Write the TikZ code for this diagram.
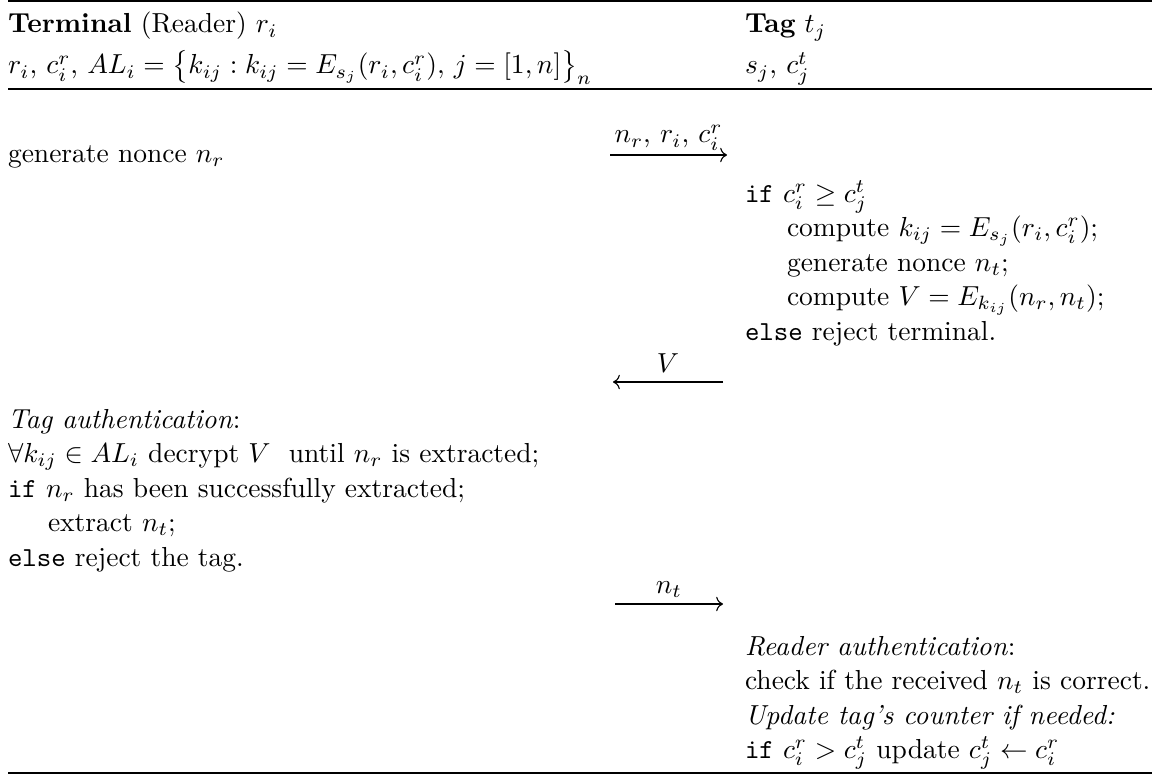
\documentclass[tikz,border=0pt]{standalone}
\usepackage{amsmath,amssymb}
\usepackage{tikz}
\usetikzlibrary{arrows.meta}
\tikzset{
  line/.style={anchor=base west,inner sep=0pt,outer sep=0pt},
  lbl/.style={anchor=base,inner sep=0pt},
  msg/.style={line width=0.4pt,-{Computer Modern Rightarrow}},
  toprl/.style={line width=0.8pt},
  midrl/.style={line width=0.5pt}
}
\newcommand{\kw}[1]{\texttt{#1}}

\begin{document}
\begin{tikzpicture}[x=0.3636pt,y=-0.3636pt]
  \useasboundingbox (0,0) rectangle (1156,776);

  % rules of the table
  \draw[toprl] (8,1.1) -- (1152,1.1);
  \draw[midrl] (8,89) -- (1152,89);
  \draw[toprl] (8,773) -- (1152,773);

  % header
  \node[line] (termhead) at (8,33) {\textbf{Terminal} (Reader) $r_i$};
  \node[line] (termdata) at (8,74)
    {$r_i$, $c_i^r$, $AL_i=\big\{k_{ij}:k_{ij}=E_{s_j}(r_i,c_i^r){,}\ j=[1,n]\big\}_n$};
  \node[line] (taghead) at (745,33) {\textbf{Tag} $t_j$};
  \node[line] (tagdata) at (745,74) {$s_j$, $c_j^t$};

  % first message
  \node[line] (gen) at (8,162) {generate nonce $n_r$};
  \coordinate (m1a) at (610,155);
  \coordinate (m1b) at (727,155);
  \node[lbl] (m1lbl) at (668.5,143) {$n_r$, $r_i$, $c_i^r$};
  \draw[msg] (m1a) -- (m1b);

  % tag side
  \node[line] (ifa) at (745,202) {\kw{if} $c_i^r\geq c_j^t$};
  \node[line] (compk) at (787,236.5) {compute $k_{ij}=E_{s_j}(r_i,c_i^r)$;};
  \node[line] (gennt) at (787,271) {generate nonce $n_t$;};
  \node[line] (compv) at (787,305.5) {compute $V=E_{k_{ij}}(n_r,n_t)$;};
  \node[line] (elsea) at (745,340) {\kw{else} reject terminal.};

  % second message
  \coordinate (m2a) at (723,382);
  \coordinate (m2b) at (613,382);
  \node[lbl] (m2lbl) at (668,372) {$V$};
  \draw[msg] (m2a) -- (m2b);

  % terminal side
  \node[line] (tagauth) at (8,428) {\textit{Tag authentication}:};
  \node[line] (forall) at (8,462.5)
    {$\forall k_{ij}\in AL_i$ decrypt $V$~ until $n_r$ is extracted;};
  \node[line] (ifb) at (8,497) {\kw{if} $n_r$ has been successfully extracted;};
  \node[line] (extr) at (48,531.5) {extract $n_t$;};
  \node[line] (elseb) at (8,566) {\kw{else} reject the tag.};

  % third message
  \coordinate (m3a) at (615,604);
  \coordinate (m3b) at (723,604);
  \node[lbl] (m3lbl) at (669,593) {$n_t$};
  \draw[msg] (m3a) -- (m3b);

  % tag side again
  \node[line] (rdauth) at (745,655) {\textit{Reader authentication}:};
  \node[line] (check) at (745,689.5) {check if the received $n_t$ is correct.};
  \node[line] (upd) at (745,724) {\textit{Update tag's counter if needed:}};
  \node[line] (ifc) at (745,758.5)
    {\kw{if} $c_i^r>c_j^t$ update $c_j^t\leftarrow c_i^r$};
\end{tikzpicture}
\end{document}
